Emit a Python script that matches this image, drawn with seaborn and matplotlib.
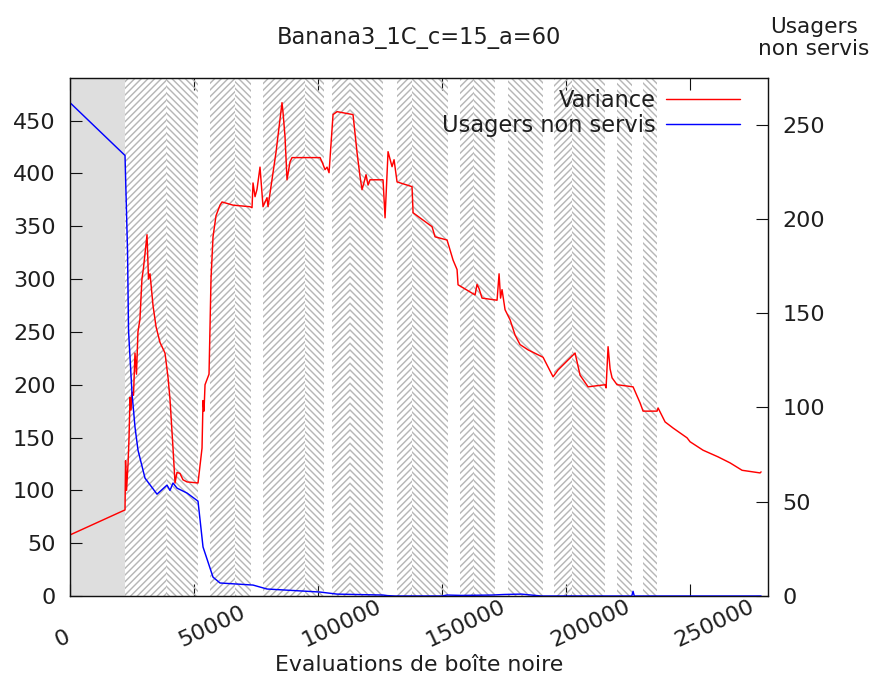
import matplotlib
matplotlib.use("Agg")
import matplotlib.pyplot as plt
import matplotlib.transforms as mtransforms
import pandas as pd
import seaborn as sns

# ---- data -------------------------------------------------------------
title = "Banana3_1C_c=15_a=60"
x_label = "Evaluations de boîte noire"
right_label = "Usagers\nnon servis"
variance_name = "Variance"
users_name = "Usagers non servis"

var_eval = [0, 22180, 22400, 22800, 23400, 23800, 24200, 24600, 25000, 25600,
            26200, 26800, 27400, 28200, 29000, 29600, 31050, 31650, 32260, 33470,
            34680, 36290, 38300, 39520, 40320, 41530, 42340, 43140, 44350, 45560,
            47170, 51610, 53230, 53630, 54030, 54440, 55240, 56050, 56850, 57660,
            58870, 60480, 61290, 65720, 72580, 73390, 73790, 74600, 75400, 76610,
            77820, 79430, 79840, 83060, 85480, 85890, 86690, 87500, 88710, 89510,
            100810, 101610, 102820, 103630, 104440, 106050, 107660, 114110, 115730, 116940,
            117740, 119360, 120160, 120970, 126210, 127020, 128230, 129840, 130650, 131860,
            137900, 138310, 145970, 147180, 152020, 154440, 156050, 156450, 163310, 164110,
            164920, 166130, 172180, 172990, 173590, 174190, 175400, 177420, 179440, 181450,
            184680, 190730, 194760, 196770, 203630, 205650, 208870, 215730, 216130, 216940,
            217750, 218550, 220560, 227010, 229840, 231050, 236690, 237100, 239920, 243150,
            248790, 250000, 255240, 261290, 266130, 270970, 278230, 278630]
var_value = [57.8, 81.5, 128, 100, 125, 150, 188, 176, 193, 190,
             230, 210, 250, 262, 300, 310, 342, 300, 305, 275,
             255, 240, 230, 207, 186, 140, 107, 117, 116, 110,
             108, 107, 140, 185, 175, 200, 205, 210, 300, 340,
             360, 370, 373, 370, 368.5, 367.6, 391, 378, 385, 406,
             368.5, 377, 368.5, 420, 467, 457.6, 434.8, 394, 411, 415,
             415, 411, 403.6, 406, 400.7, 455.7, 458.5, 455.7, 419.7, 397,
             384.6, 398.8, 389, 394, 394, 358, 420.6, 406.4, 413, 392,
             387.5, 362.8, 349.6, 340, 337, 318, 309, 294.6, 285, 295,
             291, 282, 280, 305, 282, 290, 271, 261.5, 247, 238,
             233, 226, 207.5, 214, 230, 209, 198, 200, 197, 236,
             215, 206.5, 200, 198, 182.8, 175, 175, 178, 164.8, 159,
             149.7, 146, 138, 131.7, 126, 119, 116.5, 117.5]

users_eval = [0, 22180, 23190, 23590, 25000, 26210, 27420, 30240, 35080, 39110,
              40320, 41530, 43140, 47170, 51610, 53630, 57660, 60480, 73790, 79430,
              100800, 107660, 126210, 128000, 131000, 150000, 152000, 158000, 170000, 175000,
              182000, 186000, 190000, 226500, 227000, 227500, 278630]
users_value = [261.6, 233.6, 183, 141, 107.5, 89.5, 77.3, 62.5, 54, 58.8,
               56, 59.9, 57.2, 54.6, 50.3, 26, 10, 6.9, 5.8, 3.7,
               2.1, 1.0, 0.5, 0.2, 0, 0, 0.5, 0.3, 0.5, 0.8,
               1, 0.5, 0, 0, 2.5, 0, 0]

x_ticks = [0, 50000, 100000, 150000, 200000, 250000]
left_ticks = [0, 50, 100, 150, 200, 250, 300, 350, 400, 450]
right_ticks = [0, 50, 100, 150, 200, 250]

# initial phase (solid grey) and the hatched phases
warmup_end = 22180
phase_start = [22180, 38710, 56450, 66530, 77820, 94760, 105650, 112900, 131850, 137900,
               157260, 162900, 176610, 195160, 202400, 220560, 231050]
phase_end = [38710, 51610, 66530, 72980, 94760, 102400, 112900, 126210, 137900, 152420,
             162900, 171370, 190730, 202400, 215730, 226610, 236690]
phase_hatch = ["////", "\\\\\\\\", "////", "\\\\\\\\", "////", "\\\\\\\\", "////", "\\\\\\\\",
               "////", "\\\\\\\\", "////", "\\\\\\\\", "\\\\\\\\", "////", "\\\\\\\\",
               "\\\\\\\\", "\\\\\\\\"]

# ---- style --------------------------------------------------------------
DPI = 80
FS = 20.3
TICK_FS = 20
TEXT = "#1e1e1e"
sns.set_theme(style="white")
plt.rcParams["font.family"] = ["DejaVu Sans"]
plt.rcParams["hatch.linewidth"] = 1.3
plt.rcParams["text.color"] = TEXT
plt.rcParams["axes.labelcolor"] = TEXT

fig = plt.figure(figsize=(874 / DPI, 681 / DPI), dpi=DPI)
ax = fig.add_axes([70 / 874, 85 / 681, 698 / 874, 518 / 681])
ax2 = ax.twinx()

# phases
ax.axvspan(0, warmup_end, facecolor="#dedede", edgecolor="none", linewidth=0, zorder=0.5)
for s, e, h in zip(phase_start, phase_end, phase_hatch):
    ax.axvspan(s, e, facecolor="none", edgecolor="#b6b6b6", hatch=h, linewidth=0, zorder=0.6)

var_df = pd.DataFrame({"eval": var_eval, "value": var_value})
users_df = pd.DataFrame({"eval": users_eval, "value": users_value})

sns.lineplot(data=var_df, x="eval", y="value", ax=ax, color="#ff0000", linewidth=1.3,
             sort=False, estimator=None, label=variance_name, legend=False)
sns.lineplot(data=users_df, x="eval", y="value", ax=ax2, color="#0000ff", linewidth=1.3,
             sort=False, estimator=None, label=users_name, legend=False)

ax.set_xlim(0, max(var_eval) * 1.01)
ax.set_ylim(0, max(var_value) * 1.05)
ax2.set_ylim(0, max(users_value) * 1.05)

ax.set_xticks(x_ticks)
ax.set_xticklabels([str(t) for t in x_ticks])
ax.set_yticks(left_ticks)
ax.set_yticklabels([str(t) for t in left_ticks])
ax2.set_yticks(right_ticks)
ax2.set_yticklabels([str(t) for t in right_ticks])

for spine in list(ax.spines.values()) + list(ax2.spines.values()):
    spine.set_color("#111111")
    spine.set_linewidth(1.1)

ax.tick_params(axis="x", which="major", direction="in", length=10.5, width=1.0,
               top=True, bottom=True, labelsize=TICK_FS, labelcolor=TEXT, pad=46, color="#111111")
ax.tick_params(axis="y", which="major", direction="in", length=10.5, width=1.0,
               left=True, right=False, labelsize=TICK_FS, labelcolor=TEXT, pad=13, color="#111111")
ax2.tick_params(axis="y", which="major", direction="in", length=10.5, width=1.0,
                right=True, left=False, labelsize=TICK_FS, labelcolor=TEXT, pad=13, color="#111111")

shift = mtransforms.ScaledTranslation(-12 / DPI, 0, fig.dpi_scale_trans)
for lab in ax.get_xticklabels():
    lab.set_rotation(25)
    lab.set_rotation_mode("anchor")
    lab.set_horizontalalignment("left")
    lab.set_verticalalignment("baseline")
    lab.set_transform(lab.get_transform() + shift)

ax.grid(False)
ax2.grid(False)

ax.set_title(title, fontsize=FS, color=TEXT, pad=31)
ax.set_xlabel(x_label, fontsize=19.8, color=TEXT, va="center")
ax.xaxis.set_label_coords(0.5, -69 / 518)
ax.set_ylabel("")
ax2.set_ylabel(right_label, fontsize=19.5, color=TEXT, rotation=0, ha="center", va="center",
               linespacing=1.15)
ax2.yaxis.set_label_coords((814 - 70) / 698, (596 - 38) / 518)

handles = ax.get_lines()[:1] + ax2.get_lines()[:1]
ax.legend(handles, [variance_name, users_name], loc="upper right",
          bbox_to_anchor=((740 - 70) / 698, (596 - 89) / 518), frameon=False,
          markerfirst=False, fontsize=FS, handlelength=3.3, handletextpad=0.45,
          borderpad=0, borderaxespad=0, labelspacing=0.1)

fig.savefig("out.png", dpi=DPI)
